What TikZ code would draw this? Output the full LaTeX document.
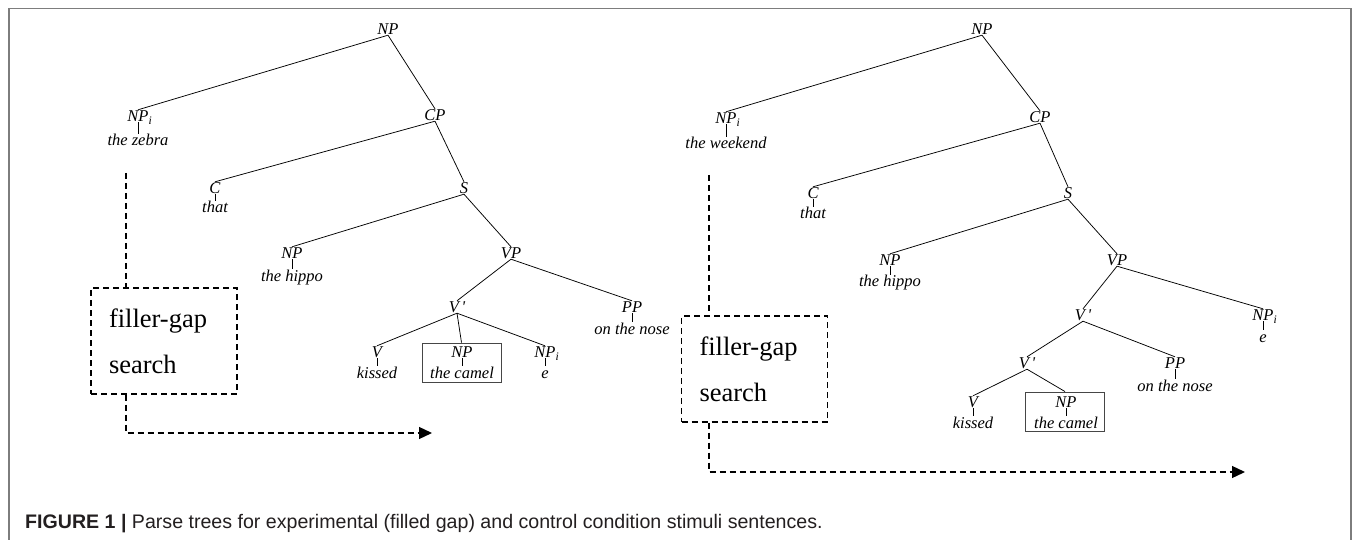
\documentclass[tikz,border=0pt]{standalone}
\usepackage{fontspec}
\setmainfont{Liberation Serif}
\newfontfamily\capfont{Liberation Sans}
\usetikzlibrary{arrows.meta}
\definecolor{framegray}{RGB}{125,125,125}
\definecolor{boxgray}{RGB}{70,70,70}
\definecolor{captext}{RGB}{35,31,32}
\begin{document}
\begin{tikzpicture}[x=1pt,y=-1pt,
  lab/.style={font=\fontsize{16.5}{16.5}\selectfont\itshape, inner sep=0.5pt, text height=11pt, text depth=0pt},
  word/.style={font=\fontsize{16.5}{16.5}\selectfont\itshape, inner sep=0.5pt, text height=11pt, text depth=3pt},
  edge/.style={line width=0.75pt},
  gapbox/.style={draw, line width=1.3pt, dash pattern=on 6pt off 4pt, minimum width=146pt, minimum height=106pt, text width=110pt, inner xsep=18pt, align=left, font=\fontsize{26.5}{46}\selectfont},
  flow/.style={line width=1.3pt, dash pattern=on 6pt off 4pt},
  hl/.style={draw=boxgray, line width=0.9pt, minimum width=79pt, minimum height=39pt, inner sep=0pt}
]
\useasboundingbox (0,0) rectangle (1355,540);
\fill[white] (0,0) rectangle (1355,540);
\draw[framegray, line width=1.3pt] (9,541) -- (9,8.5) -- (1351,8.5) -- (1351,541);

% ---------------- left tree ----------------
\node[lab] (LNP) at (388,29) {NP};
\node[lab] (LNPi) at (138,116) {NP\rlap{\textsubscript{i}}};
\node[word] (Lzebra) at (138,142) {the zebra};
\node[lab] (LCP) at (435,115) {CP};
\node[lab] (LC) at (215,188) {C};
\node[word] (Lthat) at (215,209) {that};
\node[lab] (LS) at (464,188) {S};
\node[lab] (LNP2) at (292,253) {NP};
\node[word] (Lhippo) at (292,277) {the hippo};
\node[lab] (LVP) at (511,253) {VP};
\node[lab] (LVb) at (457,307) {V\,\textquotesingle};
\node[lab] (LPP) at (632,307) {PP};
\node[word] (Lnose) at (632,330) {on the nose};
\node[lab] (LV) at (377,352) {V};
\node[word] (Lkissed) at (377,374) {kissed};
\node[hl] (Lbox) at (461.5,362.5) {};
\node[lab] (LNP3) at (462,352) {NP};
\node[word] (Lcamel) at (462,374) {the camel};
\node[lab] (LNPi2) at (545,352) {NP\rlap{\textsubscript{i}}};
\node[word] (Le) at (545,374) {e};

\draw[edge] (LNP.south) -- (LNPi.north);
\draw[edge] (LNP.south) -- (LCP.north);
\draw[edge] (LCP.south) -- (LC.north);
\draw[edge] (LCP.south) -- (LS.north);
\draw[edge] (LS.south) -- (LNP2.north);
\draw[edge] (LS.south) -- (LVP.north);
\draw[edge] (LVP.south) -- (LVb.north);
\draw[edge] (LVP.south) -- (LPP.north);
\draw[edge] (LVb.south) -- (LV.north);
\draw[edge] (LVb.south) -- (Lbox.north);
\draw[edge] (LVb.south) -- (LNPi2.north);
\draw[edge] (LNPi.south) -- (Lzebra.north);
\draw[edge] (LC.south) -- (Lthat.north);
\draw[edge] (LNP2.south) -- (Lhippo.north);
\draw[edge] (LPP.south) -- (Lnose.north);
\draw[edge] (LV.south) -- (Lkissed.north);
\draw[edge] (LNP3.south) -- (Lcamel.north);
\draw[edge] (LNPi2.south) -- (Le.north);

\node[gapbox] (LB) at (164,341) {filler-gap\\search};
\coordinate (LDtop) at (126,173);
\coordinate (LAend) at (432,433);
\draw[flow] (LDtop) -- (LDtop |- LB.north);
\draw[flow, -{Triangle[length=13pt,width=12pt]}] (LDtop |- LB.south) |- (LAend);

% ---------------- right tree ----------------
\node[lab] (RNP) at (982,29) {NP};
\node[lab] (RNPi) at (726,118) {NP\rlap{\textsubscript{i}}};
\node[word] (Rweekend) at (726,145) {the weekend};
\node[lab] (RCP) at (1040,117) {CP};
\node[lab] (RC) at (813,193) {C};
\node[word] (Rthat) at (813,215) {that};
\node[lab] (RS) at (1068,193) {S};
\node[lab] (RNP2) at (890,260) {NP};
\node[word] (Rhippo) at (890,283) {the hippo};
\node[lab] (RVP) at (1117,260) {VP};
\node[lab] (RVb1) at (1083,315) {V\,\textquotesingle};
\node[lab] (RNPi2) at (1263,315) {NP\rlap{\textsubscript{i}}};
\node[word] (Re) at (1263,338) {e};
\node[lab] (RVb2) at (1027,363) {V\,\textquotesingle};
\node[lab] (RPP) at (1175,363) {PP};
\node[word] (Rnose) at (1175,387) {on the nose};
\node[lab] (RV) at (973,402) {V};
\node[word] (Rkissed) at (973,424) {kissed};
\node[hl] (Rbox) at (1065,411.5) {};
\node[lab] (RNP3) at (1066,402) {NP};
\node[word] (Rcamel) at (1066,424) {the camel};

\draw[edge] (RNP.south) -- (RNPi.north);
\draw[edge] (RNP.south) -- (RCP.north);
\draw[edge] (RCP.south) -- (RC.north);
\draw[edge] (RCP.south) -- (RS.north);
\draw[edge] (RS.south) -- (RNP2.north);
\draw[edge] (RS.south) -- (RVP.north);
\draw[edge] (RVP.south) -- (RVb1.north);
\draw[edge] (RVP.south) -- (RNPi2.north);
\draw[edge] (RVb1.south) -- (RVb2.north);
\draw[edge] (RVb1.south) -- (RPP.north);
\draw[edge] (RVb2.south) -- (RV.north);
\draw[edge] (RVb2.south) -- (Rbox.north);
\draw[edge] (RNPi.south) -- (Rweekend.north);
\draw[edge] (RC.south) -- (Rthat.north);
\draw[edge] (RNP2.south) -- (Rhippo.north);
\draw[edge] (RNPi2.south) -- (Re.north);
\draw[edge] (RPP.south) -- (Rnose.north);
\draw[edge] (RV.south) -- (Rkissed.north);
\draw[edge] (RNP3.south) -- (Rcamel.north);

\node[gapbox] (RB) at (754.5,369) {filler-gap\\search};
\coordinate (RDtop) at (709,175);
\coordinate (RAend) at (1245,472);
\draw[flow] (RDtop) -- (RDtop |- RB.north);
\draw[flow, -{Triangle[length=13pt,width=12pt]}] (RDtop |- RB.south) |- (RAend);

% ---------------- caption ----------------
\node[anchor=base west, inner sep=0pt, text=captext, font=\capfont\fontsize{19.6}{19.6}\selectfont] (cap) at (25,528)
  {\textbf{FIGURE 1 |} Parse trees for experimental (filled gap) and control condition stimuli sentences.};
\end{tikzpicture}
\end{document}
